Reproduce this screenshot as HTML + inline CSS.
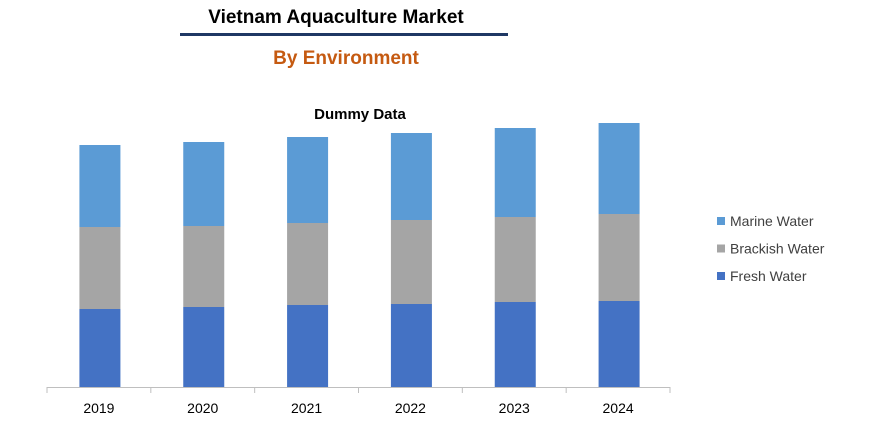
<!DOCTYPE html>
<html><head><meta charset="utf-8"><style>
body{margin:0;background:#fff;width:882px;height:429px;overflow:hidden;font-family:"Liberation Sans",Arial,sans-serif}
</style></head><body>
<svg width="882" height="429" xmlns="http://www.w3.org/2000/svg">
<text x="336" y="23" text-anchor="middle" font-size="19" font-weight="bold" fill="#000">Vietnam Aquaculture Market</text>
<rect x="180" y="33" width="328" height="3" fill="#1F3864"/>
<text x="346" y="64" text-anchor="middle" font-size="19" font-weight="bold" fill="#C55A11">By Environment</text>
<text x="360" y="119" text-anchor="middle" font-size="15" font-weight="bold" fill="#000">Dummy Data</text>
<g id="plot"></g>
<g id="legend"></g>
</svg>
<script>
const categories=["2019","2020","2021","2022","2023","2024"];
const freshWater=[78,80,82,83,85,86];
const brackishWater=[82,81,82,84,85,87];
const marineWater=[82,84,86,87,89,91];
const seriesNames=["Fresh Water","Brackish Water","Marine Water"];
const NS="http://www.w3.org/2000/svg";
const plot=document.getElementById('plot');
const x0=47,x1=670,baseY=387,pxPerUnit=1;
const band=(x1-x0)/categories.length;
const xPos=i=>x0+band*i+band/2;
const yPos=v=>baseY-v*pxPerUnit;
const colors=["#4472C4","#A5A5A5","#5B9BD5"];
const series=[freshWater,brackishWater,marineWater];
function mk(t,a){const e=document.createElementNS(NS,t);for(const k in a)e.setAttribute(k,a[k]);return e;}
categories.forEach((c,i)=>{
 let acc=0;
 series.forEach((s,j)=>{
  const r=mk('rect',{x:xPos(i)-19.5,y:yPos(acc+s[i]),width:41,height:s[i]*pxPerUnit,fill:colors[j]});
  
  
  plot.appendChild(r);acc+=s[i];
 });
 const t=mk('text',{x:xPos(i),y:413,'text-anchor':'middle','font-size':14,fill:'#000'});
 t.textContent=c;
 
 
 plot.appendChild(t);
});
const ax=mk('line',{x1:x0,x2:x1,y1:baseY+0.5,y2:baseY+0.5,stroke:'#BFBFBF','stroke-width':1});


plot.appendChild(ax);
for(let i=0;i<=categories.length;i++){
 const tk=mk('line',{x1:x0+band*i,x2:x0+band*i,y1:baseY,y2:baseY+6,stroke:'#BFBFBF'});
 
 
 plot.appendChild(tk);
}
const lg=document.getElementById('legend');
const order=[2,1,0];
order.forEach((j,k)=>{
 const y=221+k*27.5;
 const sq=mk('rect',{x:717,y:y-4,width:8,height:8,fill:colors[j]});
 
 
 lg.appendChild(sq);
 const t=mk('text',{x:730,y:y+5,'font-size':14,fill:'#404040'});
 t.textContent=seriesNames[j];
 
 
 lg.appendChild(t);
});
</script>
</body></html>
